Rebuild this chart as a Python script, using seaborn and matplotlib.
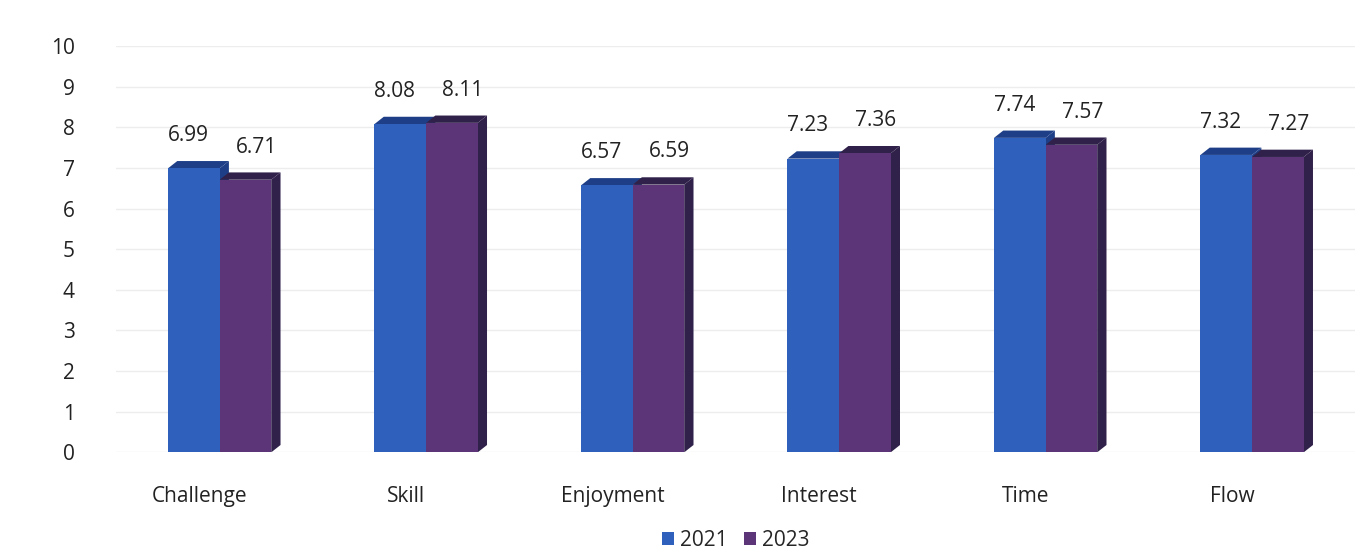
import matplotlib
matplotlib.use("Agg")
import matplotlib.pyplot as plt
from matplotlib.patches import Polygon
from matplotlib.transforms import ScaledTranslation
import seaborn as sns
import pandas as pd

categories = ["Challenge", "Skill", "Enjoyment", "Interest", "Time", "Flow"]
values_2021 = [6.99, 8.08, 6.57, 7.23, 7.74, 7.32]
values_2023 = [6.71, 8.11, 6.59, 7.36, 7.57, 7.27]
years = ["2021", "2023"]

df = pd.DataFrame({
    "category": categories * 2,
    "value": values_2021 + values_2023,
    "year": [years[0]] * len(categories) + [years[1]] * len(categories),
})

sns.set_theme(style="white")
plt.rcParams["font.family"] = ["Open Sans", "DejaVu Sans"]

palette = {"2021": "#2f60bb", "2023": "#5b3577"}
side_colors = {"2021": "#1e3f88", "2023": "#30214a"}

fig, ax = plt.subplots(figsize=(13.69, 5.55), dpi=100)
fig.subplots_adjust(left=0.085, right=0.99, top=0.917, bottom=0.185)

sns.barplot(data=df, x="category", y="value", hue="year", hue_order=years,
            palette=palette, width=0.5, gap=0, saturation=1, ax=ax,
            edgecolor="none", legend=True, zorder=3)

ax.set_ylim(0, 10)
ax.set_yticks(range(0, 11))
ax.yaxis.grid(True, color="#ededed", linewidth=1)
ax.set_axisbelow(True)
for s in ax.spines.values():
    s.set_visible(False)
ax.set_xlabel("")
ax.set_ylabel("")
ax.tick_params(axis="both", labelsize=15, colors="#222222", length=0)
ax.tick_params(axis="y", pad=30)
ax.tick_params(axis="x", pad=24)

# category names sit slightly left of the bar pairs
shift = ScaledTranslation(-0.2, 0, fig.dpi_scale_trans)
for lbl in ax.get_xticklabels():
    lbl.set_transform(lbl.get_transform() + shift)

# depth faces for a shaded block look; drawn behind the bar fronts so the
# 2023 bar hides the 2021 side face wherever it is taller
dx, dy = 0.045, 0.18
for cont, yr in zip(ax.containers, years):
    for bar in cont:
        x0, w, h = bar.get_x(), bar.get_width(), bar.get_height()
        side = Polygon([(x0 + w, 0), (x0 + w + dx, dy), (x0 + w + dx, h + dy), (x0 + w, h)],
                       closed=True, facecolor=side_colors[yr], edgecolor="none", zorder=2)
        top = Polygon([(x0, h), (x0 + dx, h + dy), (x0 + w + dx, h + dy), (x0 + w, h)],
                      closed=True, facecolor=side_colors[yr], edgecolor="none", zorder=2)
        ax.add_patch(side)
        ax.add_patch(top)

# value labels, nudged sideways (in points) per series
label_dx = {"2021": -4, "2023": 8}
pad = 16
for cont, yr in zip(ax.containers, years):
    texts = ax.bar_label(cont, labels=[f"{v:.2f}" for v in cont.datavalues],
                         padding=pad, fontsize=15, color="#222222")
    for t in texts:
        t.xyann = (label_dx[yr], pad)

handles, labels = ax.get_legend_handles_labels()
ax.legend(handles, labels, loc="upper center", bbox_to_anchor=(0.5, -0.145),
          ncol=2, frameon=False, fontsize=15, handlelength=0.55, handleheight=0.55,
          handletextpad=0.3, columnspacing=0.8)

fig.savefig("out.png", dpi=100)
